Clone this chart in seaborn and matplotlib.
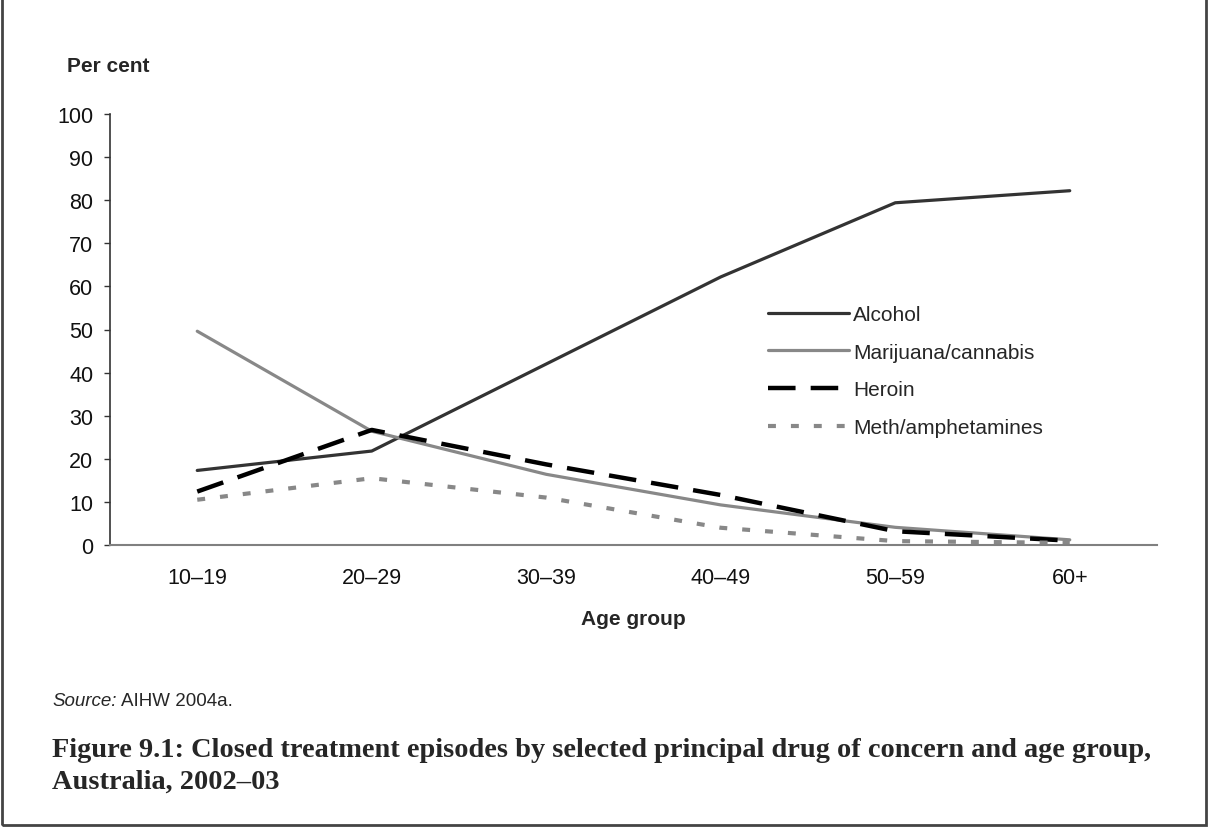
import numpy as np
import pandas as pd
import matplotlib
matplotlib.use("Agg")
import matplotlib.pyplot as plt
from matplotlib.lines import Line2D
from matplotlib.patches import Rectangle
import seaborn as sns

# ── Data ──────────────────────────────────────────────────
age_groups = ["10\u201319", "20\u201329", "30\u201339", "40\u201349", "50\u201359", "60+"]
alcohol    = [17.3, 21.8, 42.0, 62.2, 79.4, 82.2]
cannabis   = [49.6, 26.4, 16.4, 9.3, 4.1, 1.2]
heroin     = [12.4, 26.7, 18.7, 11.6, 3.2, 1.0]
meth       = [10.5, 15.5, 11.0, 4.0, 0.9, 0.5]
drugs      = ["Alcohol", "Marijuana/cannabis", "Heroin", "Meth/amphetamines"]

df = pd.DataFrame({
    "age": age_groups * 4,
    "pct": alcohol + cannabis + heroin + meth,
    "drug": np.repeat(drugs, len(age_groups)),
})

sns.set_theme(style="white")
plt.rcParams["font.family"] = ["Liberation Sans", "DejaVu Sans"]

W, H = 1208, 828

palette = {"Alcohol": "#333333", "Marijuana/cannabis": "#888888",
           "Heroin": "#000000", "Meth/amphetamines": "#888888"}
# dash patterns in units of line width
dashes = {"Alcohol": None, "Marijuana/cannabis": None,
          "Heroin": (6.2, 3.4), "Meth/amphetamines": (1.9, 3.6)}
widths = {"Alcohol": 2.3, "Marijuana/cannabis": 2.3,
          "Heroin": 3.2, "Meth/amphetamines": 3.0}

fig = plt.figure(figsize=(W / 100, H / 100), dpi=100)
ax = fig.add_axes([110 / W, 1 - 546 / H, 1047 / W, 431 / H])

for d in drugs:
    sns.lineplot(data=df[df["drug"] == d], x="age", y="pct", ax=ax,
                 color=palette[d], linewidth=widths[d], sort=False, legend=False)
    ln = ax.lines[-1]
    if dashes[d]:
        ln.set_dashes(dashes[d])
        ln.set_dash_capstyle("butt")

ax.set_xlim(-0.5, 5.5)
ax.set_ylim(0, 100)
ax.set_yticks(range(0, 101, 10))
ax.set_xticks(range(len(age_groups)))
ax.set_xticklabels(age_groups)
ax.set_xticks(np.arange(-0.5, 5.6, 1), minor=True)
ax.tick_params(axis="x", which="major", length=0, labelsize=15.5, pad=16, colors="#111111")
ax.tick_params(axis="x", which="minor", length=4, width=1, color="#808080", direction="out")
ax.tick_params(axis="y", length=4, width=1, color="#333333", direction="out",
               labelsize=15.5, pad=8, left=True, labelcolor="#111111")
ax.set_xlabel("")
ax.set_ylabel("")
for s in ["top", "right"]:
    ax.spines[s].set_visible(False)
ax.spines["left"].set_color("#333333")
ax.spines["bottom"].set_color("#808080")
ax.spines["left"].set_linewidth(1.2)
ax.spines["bottom"].set_linewidth(1.5)

handles = []
for d in drugs:
    h = Line2D([], [], color=palette[d], linewidth=widths[d])
    if dashes[d]:
        h.set_dashes(dashes[d])
    handles.append(h)
leg = ax.legend(handles, drugs, loc="upper left", frameon=False, fontsize=15,
                handlelength=3.9, handletextpad=0.2, labelspacing=0.9,
                borderpad=0, borderaxespad=0,
                bbox_to_anchor=((768 - 110) / 1047, (546 - 306) / 431))

fig.text(108 / W, 1 - 67 / H, "Per cent", ha="center", va="center",
         fontsize=15, fontweight="bold")
fig.text(633 / W, 1 - 620 / H, "Age group", ha="center", va="center",
         fontsize=15, fontweight="bold")
fig.text(52 / W, 1 - 706 / H, "Source:", ha="left", va="baseline",
         fontsize=13.5, style="italic")
fig.text(121 / W, 1 - 706 / H, "AIHW 2004a.", ha="left", va="baseline",
         fontsize=13.5)
cap_font = dict(ha="left", va="baseline", fontsize=20.4, fontweight="bold",
                family=["Liberation Serif", "DejaVu Serif"])
fig.text(52 / W, 1 - 757 / H,
         "Figure 9.1: Closed treatment episodes by selected principal drug of concern and age group,",
         **cap_font)
fig.text(52 / W, 1 - 789 / H, "Australia, 2002\u201303", **cap_font)

fig.patches.append(Rectangle((0.002, 0.002), 0.996, 1.2, transform=fig.transFigure,
                             fill=False, edgecolor="#444444", linewidth=2))

fig.savefig("out.png", dpi=100)
